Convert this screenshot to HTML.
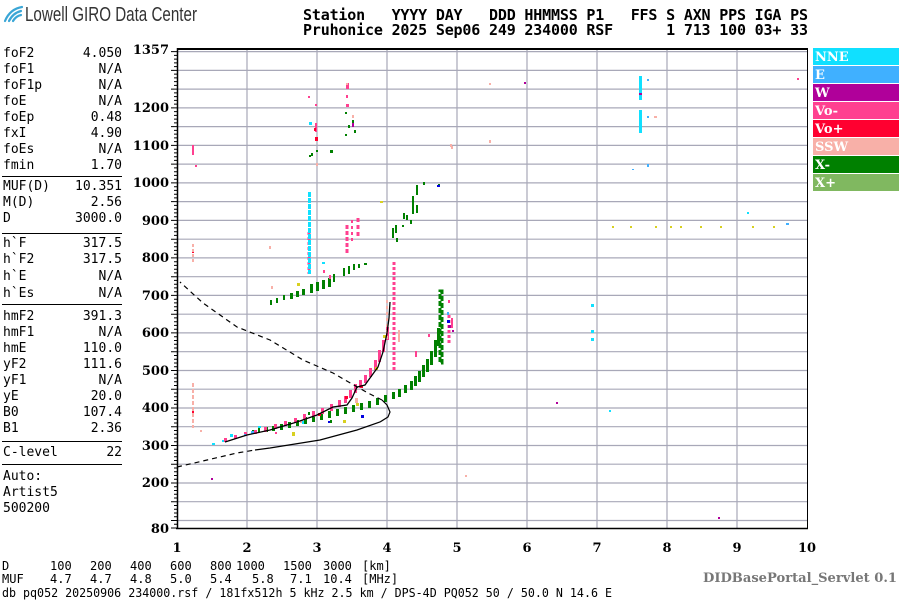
<!DOCTYPE html>
<html><head><meta charset="utf-8"><style>
html,body{margin:0;padding:0;background:#fff;}
svg{display:block;}
.m{font-family:"DejaVu Sans Mono","Liberation Mono",monospace;font-size:13px;fill:#000;}
.b{font-family:"DejaVu Sans Mono","Liberation Mono",monospace;font-size:12px;fill:#000;}
.h{font-family:"DejaVu Sans Mono","Liberation Mono",monospace;font-size:15px;font-weight:bold;fill:#000;white-space:pre;}
.t{font-family:"DejaVu Serif","Liberation Serif",serif;font-size:13px;font-weight:bold;fill:#000;}
.lg{font-family:"DejaVu Serif","Liberation Serif",serif;font-size:13px;font-weight:bold;fill:#fff;}
</style></head><body>
<svg width="900" height="600" viewBox="0 0 900 600" xmlns="http://www.w3.org/2000/svg">
<rect width="900" height="600" fill="#fff"/>
<g fill="none" stroke="#3aa6d6" stroke-width="2.2" stroke-linecap="round">
<path d="M5 21 Q10 9 22 7"/><path d="M9 21 Q13 13 21 11"/><path d="M13 21 Q16 16 21 15"/>
</g>
<text x="25" y="21" font-family="Liberation Sans, sans-serif" font-size="20" fill="#333" textLength="172" lengthAdjust="spacingAndGlyphs">Lowell GIRO Data Center</text>
<text class="h" x="303" y="20" textLength="505" lengthAdjust="spacing">Station   YYYY DAY   DDD HHMMSS P1   FFS S AXN PPS IGA PS</text>
<text class="h" x="303" y="35" textLength="505" lengthAdjust="spacing">Pruhonice 2025 Sep06 249 234000 RSF      1 713 100 03+ 33</text>

<g class="m">
<text x="3" y="57">foF2</text><text x="122" y="57" text-anchor="end">4.050</text>
<text x="3" y="73">foF1</text><text x="122" y="73" text-anchor="end">N/A</text>
<text x="3" y="89">foF1p</text><text x="122" y="89" text-anchor="end">N/A</text>
<text x="3" y="105">foE</text><text x="122" y="105" text-anchor="end">N/A</text>
<text x="3" y="121">foEp</text><text x="122" y="121" text-anchor="end">0.48</text>
<text x="3" y="137">fxI</text><text x="122" y="137" text-anchor="end">4.90</text>
<text x="3" y="153">foEs</text><text x="122" y="153" text-anchor="end">N/A</text>
<text x="3" y="169">fmin</text><text x="122" y="169" text-anchor="end">1.70</text>
<text x="3" y="190">MUF(D)</text><text x="122" y="190" text-anchor="end">10.351</text>
<text x="3" y="206">M(D)</text><text x="122" y="206" text-anchor="end">2.56</text>
<text x="3" y="222">D</text><text x="122" y="222" text-anchor="end">3000.0</text>
<text x="3" y="247">h`F</text><text x="122" y="247" text-anchor="end">317.5</text>
<text x="3" y="263">h`F2</text><text x="122" y="263" text-anchor="end">317.5</text>
<text x="3" y="280">h`E</text><text x="122" y="280" text-anchor="end">N/A</text>
<text x="3" y="297">h`Es</text><text x="122" y="297" text-anchor="end">N/A</text>
<text x="3" y="320">hmF2</text><text x="122" y="320" text-anchor="end">391.3</text>
<text x="3" y="336">hmF1</text><text x="122" y="336" text-anchor="end">N/A</text>
<text x="3" y="352">hmE</text><text x="122" y="352" text-anchor="end">110.0</text>
<text x="3" y="368">yF2</text><text x="122" y="368" text-anchor="end">111.6</text>
<text x="3" y="384">yF1</text><text x="122" y="384" text-anchor="end">N/A</text>
<text x="3" y="400">yE</text><text x="122" y="400" text-anchor="end">20.0</text>
<text x="3" y="416">B0</text><text x="122" y="416" text-anchor="end">107.4</text>
<text x="3" y="432">B1</text><text x="122" y="432" text-anchor="end">2.36</text>
<text x="3" y="456">C-level</text><text x="122" y="456" text-anchor="end">22</text>
<text x="3" y="480">Auto:</text>
<text x="3" y="496">Artist5</text>
<text x="3" y="512">500200</text>
</g>
<g stroke="#000" stroke-width="1">
<line x1="2" y1="176.5" x2="122" y2="176.5"/>
<line x1="2" y1="233.5" x2="122" y2="233.5"/>
<line x1="2" y1="304.5" x2="122" y2="304.5"/>
<line x1="2" y1="441.5" x2="122" y2="441.5"/>
<line x1="2" y1="464.5" x2="122" y2="464.5"/>
</g>

<g stroke="#a8a8b8" stroke-width="1.2">
<line x1="247" y1="49" x2="247" y2="528"/><line x1="317" y1="49" x2="317" y2="528"/>
<line x1="387" y1="49" x2="387" y2="528"/><line x1="457" y1="49" x2="457" y2="528"/>
<line x1="527" y1="49" x2="527" y2="528"/><line x1="597" y1="49" x2="597" y2="528"/>
<line x1="667" y1="49" x2="667" y2="528"/><line x1="737" y1="49" x2="737" y2="528"/>
<line x1="177" y1="51.6" x2="807" y2="51.6"/><line x1="177" y1="70.4" x2="807" y2="70.4"/>
<line x1="177" y1="89.1" x2="807" y2="89.1"/><line x1="177" y1="107.9" x2="807" y2="107.9"/>
<line x1="177" y1="126.6" x2="807" y2="126.6"/><line x1="177" y1="145.4" x2="807" y2="145.4"/>
<line x1="177" y1="164.1" x2="807" y2="164.1"/><line x1="177" y1="182.9" x2="807" y2="182.9"/>
<line x1="177" y1="201.6" x2="807" y2="201.6"/><line x1="177" y1="220.4" x2="807" y2="220.4"/>
<line x1="177" y1="239.2" x2="807" y2="239.2"/><line x1="177" y1="257.9" x2="807" y2="257.9"/>
<line x1="177" y1="276.7" x2="807" y2="276.7"/><line x1="177" y1="295.4" x2="807" y2="295.4"/>
<line x1="177" y1="314.2" x2="807" y2="314.2"/><line x1="177" y1="332.9" x2="807" y2="332.9"/>
<line x1="177" y1="351.7" x2="807" y2="351.7"/><line x1="177" y1="370.5" x2="807" y2="370.5"/>
<line x1="177" y1="389.2" x2="807" y2="389.2"/><line x1="177" y1="408" x2="807" y2="408"/>
<line x1="177" y1="426.7" x2="807" y2="426.7"/><line x1="177" y1="445.5" x2="807" y2="445.5"/>
<line x1="177" y1="464.2" x2="807" y2="464.2"/><line x1="177" y1="483" x2="807" y2="483"/>
<line x1="177" y1="501.7" x2="807" y2="501.7"/><line x1="177" y1="520.5" x2="807" y2="520.5"/>
</g>
<line x1="177" y1="49" x2="808" y2="49" stroke="#000" stroke-width="2"/>
<line x1="807.5" y1="48" x2="807.5" y2="528" stroke="#000" stroke-width="1"/>
<line x1="176" y1="528.5" x2="808" y2="528.5" stroke="#000" stroke-width="1.5"/>
<line x1="177.5" y1="48" x2="177.5" y2="529" stroke="#000" stroke-width="1.5"/>
<path stroke="#000" stroke-width="1" fill="none" d="
M171 51.6H177M174 55.4H177M174 59.1H177M174 62.9H177M174 66.6H177
M171 70.4H177M174 74.1H177M174 77.9H177M174 81.6H177M174 85.4H177
M171 89.1H177M174 92.9H177M174 96.6H177M174 100.4H177M174 104.1H177
M171 107.9H177M174 111.6H177M174 115.4H177M174 119.1H177M174 122.9H177
M171 126.6H177M174 130.4H177M174 134.1H177M174 137.9H177M174 141.6H177
M171 145.4H177M174 149.2H177M174 152.9H177M174 156.7H177M174 160.4H177
M171 164.1H177M174 167.9H177M174 171.7H177M174 175.4H177M174 179.2H177
M171 182.9H177M174 186.7H177M174 190.4H177M174 194.2H177M174 197.9H177
M171 201.6H177M174 205.4H177M174 209.2H177M174 212.9H177M174 216.7H177
M171 220.4H177M174 224.2H177M174 227.9H177M174 231.7H177M174 235.4H177
M171 239.2H177M174 242.9H177M174 246.7H177M174 250.4H177M174 254.2H177
M171 257.9H177M174 261.7H177M174 265.4H177M174 269.2H177M174 272.9H177
M171 276.7H177M174 280.4H177M174 284.2H177M174 287.9H177M174 291.7H177
M171 295.4H177M174 299.2H177M174 302.9H177M174 306.7H177M174 310.4H177
M171 314.2H177M174 317.9H177M174 321.7H177M174 325.4H177M174 329.2H177
M171 332.9H177M174 336.7H177M174 340.5H177M174 344.2H177M174 348H177
M171 351.7H177M174 355.5H177M174 359.2H177M174 363H177M174 366.7H177
M171 370.5H177M174 374.2H177M174 378H177M174 381.7H177M174 385.5H177
M171 389.2H177M174 393H177M174 396.7H177M174 400.5H177M174 404.2H177
M171 408H177M174 411.7H177M174 415.5H177M174 419.2H177M174 423H177
M171 426.7H177M174 430.5H177M174 434.2H177M174 438H177M174 441.7H177
M171 445.5H177M174 449.2H177M174 453H177M174 456.7H177M174 460.5H177
M171 464.2H177M174 468H177M174 471.7H177M174 475.5H177M174 479.2H177
M171 483H177M174 486.7H177M174 490.5H177M174 494.2H177M174 498H177
M171 501.7H177M174 505.5H177M174 509.2H177M174 513H177M174 516.7H177
M171 520.5H177M174 524.2H177M171 528H177"/>
<g class="t" text-anchor="end">
<text x="169" y="54">1357</text><text x="169" y="112">1200</text><text x="169" y="150">1100</text>
<text x="169" y="187">1000</text><text x="169" y="225">900</text><text x="169" y="262">800</text>
<text x="169" y="300">700</text><text x="169" y="337">600</text><text x="169" y="375">500</text>
<text x="169" y="412">400</text><text x="169" y="450">300</text><text x="169" y="487">200</text>
<text x="169" y="533">80</text>
</g>
<g class="t" text-anchor="middle">
<text x="177" y="552">1</text><text x="247" y="552">2</text><text x="317" y="552">3</text>
<text x="387" y="552">4</text><text x="457" y="552">5</text><text x="527" y="552">6</text>
<text x="597" y="552">7</text><text x="667" y="552">8</text><text x="737" y="552">9</text>
<text x="807" y="552">10</text>
</g>

<g>
<rect x="813" y="48" width="86" height="17" fill="#10e0ff"/><text class="lg" x="815" y="61">NNE</text>
<rect x="813" y="66" width="86" height="17" fill="#40b0ff"/><text class="lg" x="815" y="79">E</text>
<rect x="813" y="84" width="86" height="17" fill="#b0009a"/><text class="lg" x="815" y="97">W</text>
<rect x="813" y="102" width="86" height="17" fill="#ff4090"/><text class="lg" x="815" y="115">Vo-</text>
<rect x="813" y="120" width="86" height="17" fill="#ff0030"/><text class="lg" x="815" y="133">Vo+</text>
<rect x="813" y="138" width="86" height="17" fill="#f8b0a8"/><text class="lg" x="815" y="151">SSW</text>
<rect x="813" y="156" width="86" height="17" fill="#008000"/><text class="lg" x="815" y="169">X-</text>
<rect x="813" y="174" width="86" height="17" fill="#80b860"/><text class="lg" x="815" y="187">X+</text>
</g>

<g fill="#008000">
<rect x="252" y="430" width="2" height="3"/><rect x="258" y="428" width="2" height="4"/>
<rect x="265" y="427" width="3" height="5"/><rect x="272" y="426" width="3" height="5"/>
<rect x="280" y="424" width="3" height="6"/><rect x="288" y="422" width="3" height="6"/>
<rect x="296" y="420" width="3" height="6"/><rect x="304" y="417" width="3" height="7"/>
<rect x="312" y="415" width="3" height="7"/><rect x="320" y="413" width="3" height="7"/>
<rect x="328" y="411" width="3" height="7"/><rect x="336" y="409" width="3" height="7"/>
<rect x="344" y="407" width="3" height="7"/><rect x="352" y="405" width="3" height="7"/>
<rect x="360" y="403" width="3" height="7"/><rect x="368" y="401" width="3" height="7"/>
<rect x="376" y="398" width="3" height="7"/><rect x="384" y="395" width="3" height="7"/>
<rect x="392" y="392" width="3" height="7"/><rect x="398" y="389" width="3" height="8"/>
<rect x="404" y="385" width="3" height="8"/><rect x="410" y="381" width="3" height="9"/>
<rect x="414" y="376" width="3" height="10"/><rect x="418" y="371" width="3" height="11"/>
<rect x="422" y="365" width="3" height="12"/><rect x="426" y="359" width="3" height="13"/>
<rect x="430" y="351" width="3" height="14"/><rect x="434" y="340" width="3" height="17"/>
<rect x="437" y="328" width="3" height="18"/>
<rect x="440" y="291" width="2" height="72" fill="none" stroke="#008000" stroke-width="3" stroke-dasharray="5,2"/>
<rect x="308" y="412" width="2" height="3"/><rect x="330" y="420" width="2" height="3"/>
<rect x="270" y="300" width="2" height="5"/><rect x="276" y="298" width="2" height="5"/>
<rect x="283" y="295" width="2" height="5"/><rect x="290" y="293" width="3" height="6"/>
<rect x="296" y="291" width="3" height="6"/><rect x="302" y="289" width="3" height="6"/>
<rect x="310" y="284" width="3" height="9"/><rect x="316" y="282" width="3" height="9"/>
<rect x="322" y="280" width="3" height="9"/><rect x="328" y="278" width="3" height="9"/>
<rect x="333" y="274" width="2" height="8"/><rect x="343" y="268" width="2" height="8"/>
<rect x="348" y="266" width="2" height="8"/><rect x="353" y="264" width="2" height="6"/>
<rect x="358" y="264" width="2" height="4"/><rect x="364" y="263" width="3" height="2"/>
<rect x="345" y="112" width="2" height="2"/><rect x="348" y="125" width="2" height="3"/>
<rect x="352" y="120" width="2" height="3"/><rect x="354" y="130" width="2" height="3"/>
<rect x="345" y="134" width="2" height="2"/><rect x="311" y="153" width="2" height="3"/>
<rect x="316" y="150" width="2" height="2"/><rect x="330" y="150" width="3" height="3"/>
<rect x="309" y="155" width="2" height="2"/>
<rect x="392" y="228" width="2" height="10"/><rect x="395" y="225" width="2" height="8"/>
<rect x="396" y="238" width="2" height="4"/><rect x="402" y="225" width="2" height="2"/>
<rect x="406" y="215" width="2" height="5"/><rect x="412" y="196" width="2" height="18"/>
<rect x="416" y="185" width="2" height="10"/><rect x="423" y="182" width="2" height="3"/>
<rect x="416" y="205" width="2" height="8"/><rect x="403" y="213" width="2" height="6"/>
<rect x="410" y="220" width="2" height="4"/><rect x="438" y="184" width="2" height="2"/>
</g>
<g fill="#ff4090">
<rect x="224" y="438" width="3" height="4"/><rect x="234" y="435" width="3" height="4"/>
<rect x="244" y="432" width="3" height="4"/><rect x="254" y="430" width="3" height="4"/>
<rect x="264" y="427" width="3" height="5"/><rect x="274" y="424" width="3" height="5"/>
<rect x="284" y="421" width="3" height="5"/><rect x="294" y="418" width="3" height="5"/>
<rect x="303" y="414" width="3" height="6"/><rect x="312" y="411" width="3" height="6"/>
<rect x="321" y="408" width="3" height="6"/><rect x="330" y="404" width="3" height="7"/>
<rect x="338" y="400" width="3" height="7"/><rect x="344" y="396" width="3" height="7"/>
<rect x="349" y="390" width="3" height="8"/><rect x="354" y="384" width="3" height="9"/>
<rect x="359" y="380" width="3" height="8"/><rect x="364" y="375" width="3" height="8"/>
<rect x="369" y="368" width="3" height="9"/><rect x="374" y="360" width="3" height="10"/>
<rect x="378" y="350" width="3" height="12"/><rect x="382" y="340" width="3" height="12"/>
<rect x="386" y="327" width="3" height="13"/>
<line x1="394" y1="262" x2="394" y2="372" stroke="#ff4090" stroke-width="3" stroke-dasharray="3,2"/>
<line x1="309" y1="232" x2="309" y2="274" stroke="#ff4090" stroke-width="3" stroke-dasharray="3,2"/>
<line x1="347" y1="225" x2="347" y2="253" stroke="#ff4090" stroke-width="3" stroke-dasharray="4,2"/>
<line x1="352" y1="220" x2="352" y2="242" stroke="#ff4090" stroke-width="2" stroke-dasharray="3,3"/>
<line x1="358" y1="218" x2="358" y2="238" stroke="#ff4090" stroke-width="3" stroke-dasharray="4,3"/>
<rect x="346" y="83" width="3" height="6"/><rect x="346" y="95" width="2" height="3"/>
<rect x="346" y="104" width="3" height="3"/><rect x="308" y="96" width="2" height="2"/>
<rect x="315" y="104" width="2" height="2"/><rect x="315" y="123" width="2" height="9"/>
<rect x="323" y="270" width="2" height="3"/><rect x="329" y="275" width="2" height="4"/>
<rect x="415" y="351" width="2" height="6"/><rect x="448" y="300" width="2" height="3"/>
<line x1="449" y1="315" x2="449" y2="345" stroke="#ff4090" stroke-width="3" stroke-dasharray="3,2"/>
<rect x="451" y="318" width="2" height="10"/>
<rect x="428" y="334" width="2" height="3"/><rect x="797" y="78" width="2" height="2"/>
<rect x="192" y="145" width="2" height="10"/><rect x="195" y="165" width="2" height="2"/>
<rect x="275" y="432" width="2" height="2"/>
</g>
<g fill="#ff0030">
<rect x="315" y="137" width="3" height="4"/><rect x="314" y="128" width="2" height="3"/>
<rect x="192" y="250" width="2" height="3"/><rect x="345" y="396" width="3" height="3"/>
<rect x="360" y="385" width="3" height="3"/><rect x="318" y="413" width="3" height="3"/>
<rect x="192" y="410" width="2" height="3"/>
</g>
<g fill="#f8b0a8">
<line x1="193" y1="383" x2="193" y2="428" stroke="#f8b0a8" stroke-width="2" stroke-dasharray="4,2"/>
<line x1="193" y1="244" x2="193" y2="262" stroke="#f8b0a8" stroke-width="2" stroke-dasharray="3,2"/>
<rect x="346" y="83" width="2" height="2"/><rect x="352" y="115" width="2" height="3"/>
<rect x="316" y="163" width="2" height="3"/><rect x="271" y="286" width="2" height="3"/>
<rect x="269" y="246" width="2" height="3"/><rect x="450" y="144" width="2" height="3"/>
<rect x="451" y="146" width="2" height="3"/>
<line x1="387" y1="300" x2="387" y2="340" stroke="#f8b0a8" stroke-width="2" stroke-dasharray="3,3"/>
<rect x="398" y="330" width="2" height="12"/><rect x="355" y="398" width="3" height="5"/>
<rect x="300" y="420" width="3" height="3"/><rect x="465" y="475" width="2" height="2"/>
<rect x="489" y="83" width="2" height="2"/><rect x="489" y="140" width="2" height="3"/>
<rect x="654" y="116" width="3" height="2"/><rect x="200" y="430" width="2" height="2"/>
</g>
<g fill="#10e0ff">
<line x1="309.5" y1="192" x2="309.5" y2="274" stroke="#10e0ff" stroke-width="3" stroke-dasharray="5,1"/>
<rect x="639" y="76" width="3" height="24"/>
<rect x="639" y="110" width="3" height="23"/><rect x="591" y="304" width="3" height="3"/>
<rect x="591" y="330" width="3" height="3"/><rect x="591" y="338" width="3" height="3"/>
<rect x="322" y="262" width="3" height="2"/><rect x="309" y="122" width="3" height="3"/>
<rect x="230" y="434" width="3" height="3"/><rect x="222" y="440" width="2" height="2"/>
<rect x="258" y="426" width="3" height="2"/><rect x="212" y="443" width="3" height="2"/>
<rect x="302" y="421" width="2" height="3"/><rect x="609" y="410" width="2" height="2"/>
<rect x="747" y="212" width="2" height="2"/>
</g>
<g fill="#40b0ff">
<rect x="647" y="79" width="2" height="2"/><rect x="647" y="164" width="2" height="3"/>
<rect x="632" y="169" width="2" height="1"/><rect x="251" y="431" width="3" height="3"/>
<rect x="447" y="312" width="2" height="3"/><rect x="647" y="116" width="2" height="2"/>
<rect x="786" y="223" width="3" height="2"/><rect x="244" y="434" width="2" height="2"/>
</g>
<g fill="#b0009a">
<rect x="524" y="82" width="2" height="2"/><rect x="448" y="325" width="3" height="3"/>
<rect x="556" y="402" width="2" height="2"/><rect x="639" y="93" width="3" height="2"/>
<rect x="211" y="478" width="2" height="2"/><rect x="718" y="517" width="2" height="2"/>
<rect x="452" y="330" width="2" height="2"/><rect x="352" y="123" width="2" height="4"/>
</g>
<g fill="#d8d020">
<rect x="612" y="226" width="2" height="2"/><rect x="630" y="226" width="2" height="2"/>
<rect x="655" y="226" width="2" height="2"/><rect x="670" y="226" width="2" height="2"/>
<rect x="680" y="226" width="2" height="2"/><rect x="700" y="226" width="2" height="2"/>
<rect x="720" y="226" width="2" height="2"/><rect x="752" y="226" width="2" height="2"/>
<rect x="773" y="226" width="2" height="2"/><rect x="380" y="201" width="3" height="2"/>
<rect x="292" y="432" width="3" height="4"/><rect x="356" y="403" width="3" height="3"/>
<rect x="375" y="367" width="3" height="3"/><rect x="343" y="420" width="3" height="3"/>
<rect x="297" y="283" width="3" height="3"/><rect x="383" y="335" width="3" height="3"/>
</g>
<g fill="#0000e0">
<rect x="437" y="185" width="3" height="2"/><rect x="361" y="415" width="3" height="3"/>
<rect x="447" y="320" width="3" height="3"/><rect x="328" y="421" width="2" height="2"/>
</g>

<polyline fill="none" stroke="#000" stroke-width="1.3" points="225,442 247,435 270,430 297,422 317,415 333,407 347,405 352,398 357,387 365,385 370,378 378,367 383,352 387,333 389,318 390,302"/>
<polyline fill="none" stroke="#000" stroke-width="1.2" stroke-dasharray="5,4" points="177,467 237,453 255,450"/>
<polyline fill="none" stroke="#000" stroke-width="1.2" points="255,450 270,448 320,440 357,430 380,422 388,417 390,412 387,405 382,400"/>
<polyline fill="none" stroke="#000" stroke-width="1.2" stroke-dasharray="5,4" points="382,400 368,393 345,380 333,373 303,360 270,340 237,327 203,303 180,282"/>
<g class="b">
<text x="2" y="570">D</text><text x="50" y="570">100</text><text x="90" y="570">200</text>
<text x="130" y="570">400</text><text x="170" y="570">600</text><text x="210" y="570">800</text>
<text x="236" y="570">1000</text><text x="283" y="570">1500</text><text x="323" y="570">3000</text>
<text x="362" y="570">[km]</text>
<text x="2" y="583">MUF</text><text x="50" y="583">4.7</text><text x="90" y="583">4.7</text>
<text x="130" y="583">4.8</text><text x="170" y="583">5.0</text><text x="210" y="583">5.4</text>
<text x="252" y="583">5.8</text><text x="290" y="583">7.1</text><text x="323" y="583">10.4</text>
<text x="362" y="583">[MHz]</text>
<text x="2" y="597" textLength="610" lengthAdjust="spacingAndGlyphs">db pq052 20250906 234000.rsf / 181fx512h 5 kHz 2.5 km / DPS-4D PQ052 50 / 50.0 N 14.6 E</text>
</g>
<text x="703" y="582" font-family="DejaVu Serif, Liberation Serif, serif" font-weight="bold" font-size="13" fill="#777" textLength="194" lengthAdjust="spacingAndGlyphs">DIDBasePortal_Servlet 0.1</text>
</svg>
</body></html>
